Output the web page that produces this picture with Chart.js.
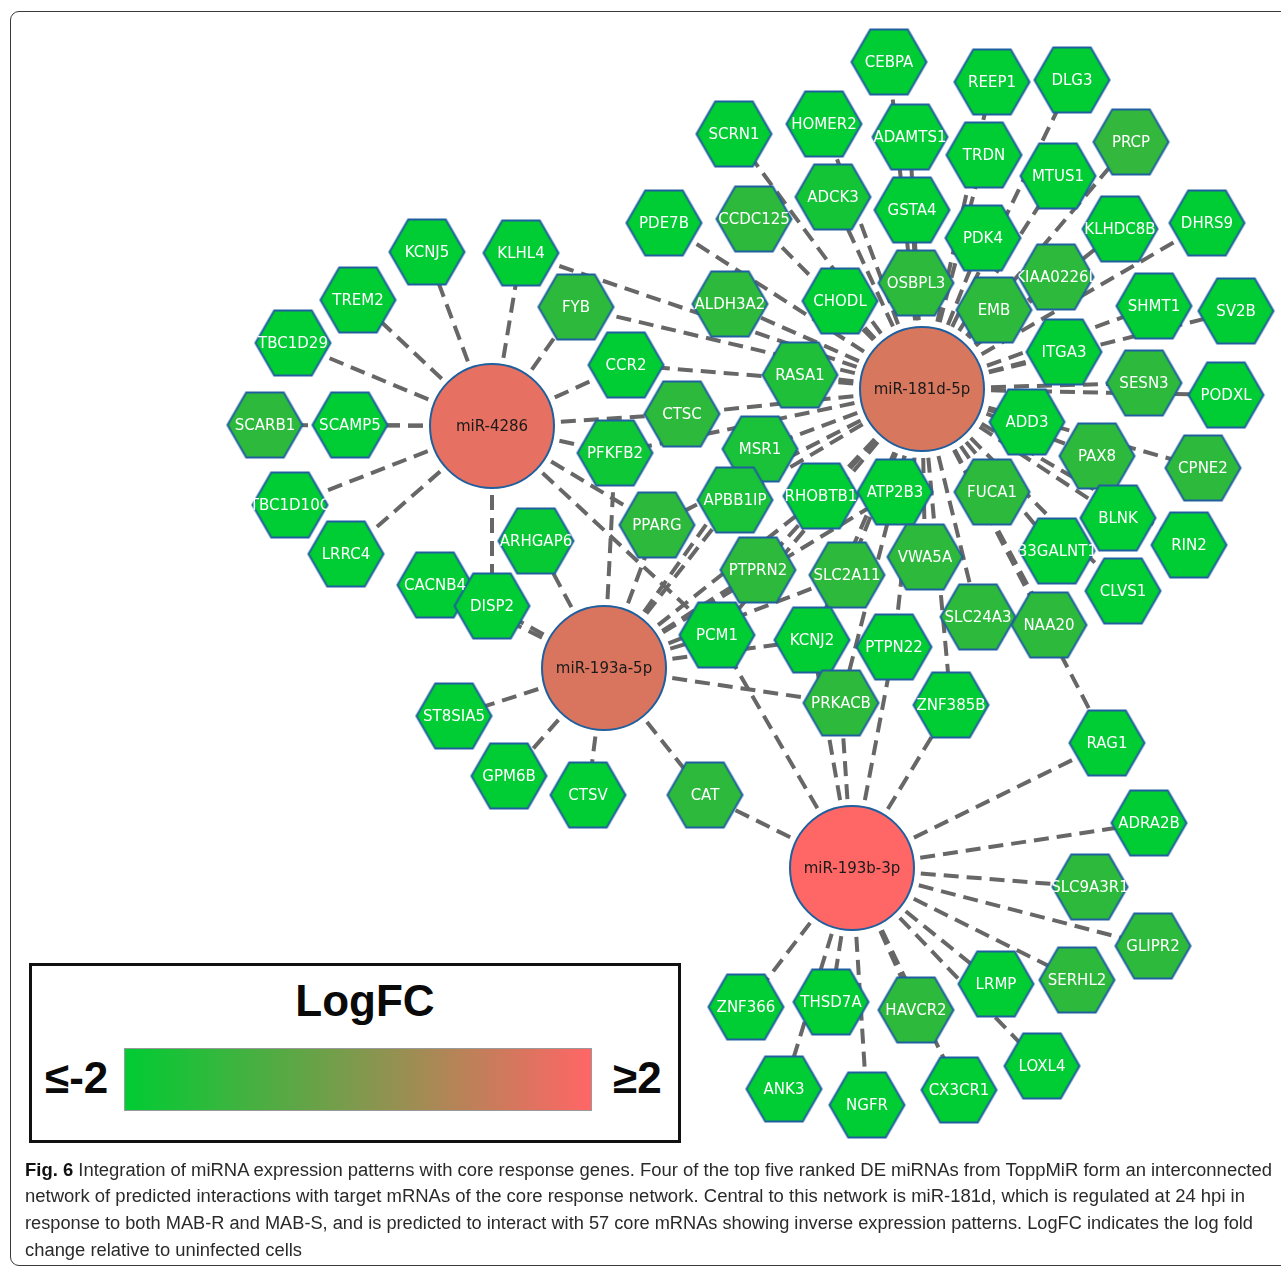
<!DOCTYPE html>
<html>
<head>
<meta charset="utf-8">
<title>miRNA – core response gene network</title>
<script src="https://cdn.jsdelivr.net/npm/chart.js@4.4.1/dist/chart.umd.min.js"></script>
<style>
  html, body { margin: 0; padding: 0; background: #fff; }
  body { width: 1281px; height: 1268px; position: relative; overflow: hidden;
         font-family: 'Liberation Sans', Arial, sans-serif; }
  #frame { position: absolute; left: 10px; top: 11px; width: 1320px; height: 1255px;
           border: 1.5px solid #3a3a3a; border-radius: 9px; box-sizing: border-box; }
  #net { position: absolute; left: 0; top: 0; }
  #scaleBox { position: absolute; left: 29px; top: 963px; width: 652px; height: 180px;
              border: 3px solid #111; box-sizing: border-box; background: #fff; }
  #scaleBar { position: absolute; left: 124px; top: 1048px; width: 468px; height: 63px;
              box-sizing: border-box; border: 1px solid #9a9a9a; }
  .big { position: absolute; font: bold 44px 'Liberation Sans', Arial, sans-serif;
         line-height: 44px; color: #0a0a0a; white-space: nowrap; }
  .cap { position: absolute; left: 25px; font-size: 18px; line-height: 20px; color: #2a2a2a;
         white-space: nowrap; transform-origin: 0 50%; font-family: 'Liberation Sans', Arial, sans-serif; }
  .cap b { color: #111; }
</style>
</head>
<body>
<div id="frame"></div>
<div id="scaleBox"></div>
<div id="scaleBar"></div>
<div class="big" id="scaleTitle" style="left:39px;width:652px;text-align:center;top:979px;">LogFC</div>
<div class="big" style="left:45px;top:1056px;">≤-2</div>
<div class="big" style="left:613px;top:1056px;">≥2</div>
<canvas id="net" width="1281" height="1268"></canvas>
<div class="cap" data-w="1247" style="top:1160px;"><b>Fig. 6</b> Integration of miRNA expression patterns with core response genes. Four of the top five ranked DE miRNAs from ToppMiR form an interconnected</div>
<div class="cap" data-w="1220" style="top:1186px;">network of predicted interactions with target mRNAs of the core response network. Central to this network is miR-181d, which is regulated at 24 hpi in</div>
<div class="cap" data-w="1228" style="top:1213px;">response to both MAB-R and MAB-S, and is predicted to interact with 57 core mRNAs showing inverse expression patterns. LogFC indicates the log fold</div>
<div class="cap" data-w="277" style="top:1240px;">change relative to uninfected cells</div>

<script>
// ---- layout extent (network coordinates) ----
const layoutWidth = 1281;
const layoutHeight = 1268;

// ---- miRNA nodes ----
const mirNames = ['miR-4286', 'miR-181d-5p', 'miR-193a-5p', 'miR-193b-3p'];
const mirX     = [492, 922, 604, 852];
const mirY     = [426, 389, 668, 868];
const mirLogFC = [1.6, 1.35, 1.4, 2.0];

// ---- target gene nodes ----
const geneNames = ['KCNJ5','KLHL4','TREM2','TBC1D29','FYB','CCR2','SCARB1','SCAMP5','TBC1D10C','LRRC4',
  'ARHGAP6','CACNB4','DISP2','CTSC','PFKFB2','CEBPA','REEP1','DLG3','SCRN1','HOMER2',
  'ADAMTS1','TRDN','MTUS1','PRCP','PDE7B','CCDC125','ADCK3','GSTA4','PDK4','KLHDC8B',
  'DHRS9','ALDH3A2','CHODL','OSBPL3','EMB','KIAA0226L','SHMT1','SV2B','ITGA3','RASA1',
  'SESN3','PODXL','ADD3','MSR1','PAX8','CPNE2','RHOBTB1','APBB1IP','ATP2B3','FUCA1',
  'BLNK','RIN2','PPARG','PTPRN2','SLC2A11','VWA5A','B3GALNT1','CLVS1','SLC24A3','NAA20',
  'PCM1','KCNJ2','PTPN22','PRKACB','ZNF385B','RAG1','ST8SIA5','GPM6B','CTSV','CAT',
  'ADRA2B','SLC9A3R1','GLIPR2','SERHL2','LRMP','HAVCR2','THSD7A','ZNF366','ANK3','NGFR',
  'CX3CR1','LOXL4'];
const geneX = [427,521,358,293,576,626,265,350,290,346,
  536,435,492,682,615,889,992,1072,734,824,
  910,984,1058,1131,664,754,833,912,983,1120,
  1207,730,840,916,994,1056,1154,1236,1064,800,
  1144,1226,1027,760,1097,1203,821,735,895,992,
  1118,1189,657,758,847,925,1057,1123,978,1049,
  717,812,894,841,951,1107,454,509,588,705,
  1149,1090,1153,1077,996,916,831,746,784,867,
  959,1042];
const geneY = [252,253,300,343,307,365,425,425,505,554,
  541,585,606,414,453,62,82,80,134,124,
  137,155,176,142,223,219,197,210,238,229,
  223,304,301,283,310,277,306,311,352,375,
  383,395,422,449,456,468,496,500,492,492,
  518,545,525,570,575,557,551,591,617,625,
  635,640,647,703,705,743,716,776,795,795,
  823,887,946,980,984,1010,1002,1007,1089,1105,
  1090,1066];
const geneLogFC = [-2.0,-2.0,-2.0,-2.0,-1.3,-2.0,-1.3,-2.0,-2.0,-2.0,
  -1.9,-2.0,-2.0,-1.3,-1.8,-2.0,-2.0,-2.0,-2.0,-2.0,
  -2.0,-2.0,-2.0,-1.2,-2.0,-1.3,-1.7,-2.0,-2.0,-2.0,
  -2.0,-1.3,-2.0,-1.3,-1.3,-1.3,-2.0,-2.0,-2.0,-1.5,
  -1.3,-2.0,-2.0,-1.6,-1.3,-1.3,-2.0,-1.6,-2.0,-1.3,
  -2.0,-2.0,-1.3,-1.3,-1.3,-1.3,-2.0,-2.0,-1.3,-1.3,
  -2.0,-2.0,-2.0,-1.3,-2.0,-2.0,-2.0,-2.0,-2.0,-1.3,
  -2.0,-1.3,-1.3,-1.3,-2.0,-1.3,-2.0,-2.0,-2.0,-2.0,
  -2.0,-2.0];

// ---- predicted interactions (miRNA -> target genes) ----
const targets4286 = ['KCNJ5','KLHL4','TREM2','TBC1D29','SCAMP5','SCARB1','TBC1D10C','LRRC4',
  'FYB','CCR2','DISP2','CTSC','PFKFB2','PPARG','PCM1'];
const targets181d = ['SCRN1','HOMER2','CEBPA','REEP1','DLG3','PDE7B','CCDC125','ADCK3','ADAMTS1',
  'GSTA4','TRDN','MTUS1','PRCP','PDK4','KLHDC8B','DHRS9','ALDH3A2','CHODL','OSBPL3','EMB',
  'KIAA0226L','SHMT1','SV2B','ITGA3','RASA1','SESN3','PODXL','ADD3','MSR1','PAX8','CPNE2',
  'APBB1IP','RHOBTB1','ATP2B3','FUCA1','BLNK','RIN2','PPARG','PTPRN2','SLC2A11','VWA5A',
  'B3GALNT1','CLVS1','SLC24A3','NAA20','RAG1','ZNF385B','PTPN22','KCNJ2','PCM1','PRKACB',
  'CTSC','CCR2','FYB','KLHL4','PFKFB2'];
const targets193a = ['DISP2','CACNB4','ARHGAP6','ST8SIA5','GPM6B','CTSV','CAT','PRKACB','KCNJ2',
  'PCM1','SLC2A11','PTPRN2','PPARG','APBB1IP','MSR1','RHOBTB1','ATP2B3','PFKFB2'];
const targets193b = ['RAG1','ADRA2B','SLC9A3R1','GLIPR2','SERHL2','LRMP','LOXL4','HAVCR2','CX3CR1',
  'NGFR','THSD7A','ANK3','ZNF366','CAT','ZNF385B','PTPN22','PRKACB','KCNJ2','PCM1'];
const targetLists = [targets4286, targets181d, targets193a, targets193b];

// ---- LogFC colour scale ----
const scaleMin = -2, scaleMax = 2;
const lowRGB  = [0, 204, 51];
const highRGB = [255, 102, 102];

function colourFor(v) {
  const t = Math.max(0, Math.min(1, (v - scaleMin) / (scaleMax - scaleMin)));
  const c = lowRGB.map((lo, k) => Math.round(lo + (highRGB[k] - lo) * t));
  return `rgb(${c[0]},${c[1]},${c[2]})`;
}

// gradient bar of the colour key
(function () {
  const stops = [];
  for (let i = 0; i <= 10; i++) {
    const v = scaleMin + (scaleMax - scaleMin) * i / 10;
    stops.push(`${colourFor(v)} ${i * 10}%`);
  }
  document.getElementById('scaleBar').style.background = `linear-gradient(to right, ${stops.join(',')})`;
})();

// hexagon marker images, one per fill colour
const HEX_R = 37.5;
const NODE_EDGE = '#1f5f9e';
const hexCache = {};
function hexImage(fill) {
  if (hexCache[fill]) return hexCache[fill];
  const h = HEX_R * Math.sqrt(3);
  const c = document.createElement('canvas');
  c.width = Math.ceil(2 * HEX_R + 4);
  c.height = Math.ceil(h + 4);
  const g = c.getContext('2d');
  const cx = c.width / 2, cy = c.height / 2;
  g.beginPath();
  for (let k = 0; k < 6; k++) {
    const a = Math.PI / 3 * k;
    const px = cx + HEX_R * Math.cos(a), py = cy + HEX_R * Math.sin(a);
    k ? g.lineTo(px, py) : g.moveTo(px, py);
  }
  g.closePath();
  g.fillStyle = fill;
  g.fill();
  g.lineWidth = 2;
  g.strokeStyle = NODE_EDGE;
  g.stroke();
  hexCache[fill] = c;
  return c;
}
const geneImages = geneLogFC.map(v => hexImage(colourFor(v)));

// ---- plugins: dashed interaction edges and node labels ----
const edgePlugin = {
  id: 'interactionEdges',
  beforeDatasetsDraw(chart) {
    const { ctx, scales: { x, y } } = chart;
    ctx.save();
    ctx.strokeStyle = '#676767';
    ctx.lineWidth = 4;
    ctx.setLineDash([15, 8]);
    ctx.lineCap = 'butt';
    targetLists.forEach((list, m) => {
      const x0 = x.getPixelForValue(mirX[m]), y0 = y.getPixelForValue(mirY[m]);
      list.forEach(name => {
        const i = geneNames.indexOf(name);
        if (i < 0) return;
        ctx.beginPath();
        ctx.moveTo(x0, y0);
        ctx.lineTo(x.getPixelForValue(geneX[i]), y.getPixelForValue(geneY[i]));
        ctx.stroke();
      });
    });
    ctx.restore();
  }
};

const labelPlugin = {
  id: 'nodeLabels',
  afterDatasetsDraw(chart) {
    const { ctx } = chart;
    ctx.save();
    ctx.font = "15px 'DejaVu Sans', sans-serif";
    ctx.textAlign = 'center';
    ctx.textBaseline = 'middle';
    chart.getDatasetMeta(1).data.forEach((pt, i) => {
      ctx.save();
      ctx.beginPath();
      ctx.rect(pt.x - HEX_R, pt.y - 33, 2 * HEX_R, 66);
      ctx.clip();
      ctx.fillStyle = '#ffffff';
      ctx.fillText(geneNames[i], pt.x, pt.y + 1);
      ctx.restore();
    });
    ctx.fillStyle = '#1a1a1a';
    chart.getDatasetMeta(0).data.forEach((pt, i) => {
      ctx.fillText(mirNames[i], pt.x, pt.y + 1);
    });
    ctx.restore();
  }
};

new Chart(document.getElementById('net'), {
  type: 'scatter',
  data: {
    datasets: [
      {
        label: 'miRNA',
        data: mirNames.map((n, i) => ({ x: mirX[i], y: mirY[i] })),
        pointStyle: 'circle',
        pointRadius: 62,
        backgroundColor: mirLogFC.map(colourFor),
        borderColor: NODE_EDGE,
        borderWidth: 2
      },
      {
        label: 'target mRNA',
        data: geneNames.map((n, i) => ({ x: geneX[i], y: geneY[i] })),
        pointStyle: ctx => geneImages[ctx.dataIndex],
        pointRadius: HEX_R
      }
    ]
  },
  options: {
    responsive: false,
    animation: false,
    devicePixelRatio: 1,
    events: [],
    layout: { padding: 0, autoPadding: false },
    scales: {
      x: { type: 'linear', min: 0, max: layoutWidth, display: false },
      y: { type: 'linear', min: 0, max: layoutHeight, reverse: true, display: false }
    },
    plugins: { legend: { display: false }, tooltip: { enabled: false } }
  },
  plugins: [edgePlugin, labelPlugin]
});

// fit each caption line to its column width
function fitCaption() {
  document.querySelectorAll('.cap').forEach(el => {
    el.style.transform = 'none';
    const target = parseFloat(el.dataset.w);
    const w = el.getBoundingClientRect().width;
    if (w > 0) el.style.transform = `scaleX(${target / w})`;
  });
}
fitCaption();
if (document.fonts && document.fonts.ready) document.fonts.ready.then(fitCaption);
</script>
</body>
</html>
